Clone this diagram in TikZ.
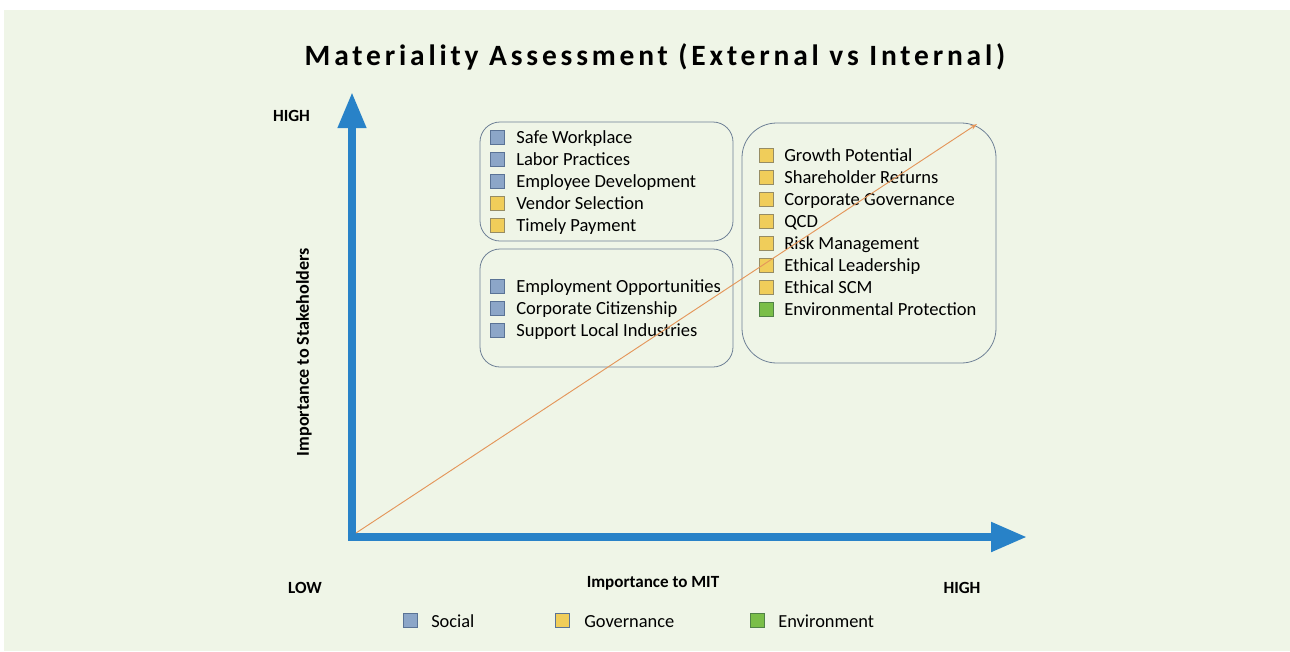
\documentclass[tikz,border=0pt]{standalone}
\usepackage{fontspec}
\setmainfont{Carlito}
\newfontfamily\titlefont[LetterSpace=13]{Carlito}
\usetikzlibrary{arrows.meta}
\definecolor{bgc}{RGB}{239,245,231}
\definecolor{axisblue}{RGB}{40,130,200}
\definecolor{boxline}{RGB}{110,128,150}
\definecolor{soc}{RGB}{140,166,200}
\definecolor{socb}{RGB}{90,115,150}
\definecolor{gov}{RGB}{240,205,90}
\definecolor{govb}{RGB}{150,140,100}
\definecolor{env}{RGB}{122,190,72}
\definecolor{envb}{RGB}{80,130,70}
\definecolor{trend}{RGB}{228,150,90}
\begin{document}
\begin{tikzpicture}[x=0.75pt,y=-0.75pt,
  group/.style={draw=boxline,line width=0.6pt,rounded corners=15pt,inner sep=0pt},
  chip/.style={draw=#1b,fill=#1,line width=0.5pt,minimum size=10.5pt,inner sep=0pt},
  item/.style={anchor=base west,inner sep=0pt,font=\fontsize{13.9pt}{15pt}\selectfont},
  lab/.style={inner sep=0pt,font=\fontsize{12.8pt}{14pt}\selectfont\bfseries},
  leg/.style={anchor=base west,inner sep=0pt,font=\fontsize{13.8pt}{15pt}\selectfont}]
\useasboundingbox (0,0) rectangle (1290,651);
\fill[white] (0,0) rectangle (1290,651);
\fill[bgc] (4,10) rectangle (1290,651);
% title
\node[inner sep=0pt] (title) at (655,57) {\titlefont\fontsize{22.1pt}{24pt}\selectfont\bfseries Materiality Assessment (External vs Internal)};
% groups
\node[group,minimum width=253*0.75pt,minimum height=119*0.75pt] (g1) at (606.5,181.5) {};
\node[group,minimum width=253*0.75pt,minimum height=118*0.75pt] (g2) at (606.5,308) {};
\node[group,rounded corners=26pt,minimum width=254*0.75pt,minimum height=240*0.75pt] (g3) at (869,243) {};
% items group 1
\foreach \t/\c/\y [count=\i] in {Safe Workplace/soc/137, Labor Practices/soc/159, Employee Development/soc/181, Vendor Selection/gov/203, Timely Payment/gov/225}{
  \node[chip=\c] (a\i) at (497,\y) {};
  \node[item] (at\i) at (516,\y+6) {\t};
}
\foreach \t/\c/\y [count=\i] in {Employment Opportunities/soc/286, Corporate Citizenship/soc/308, Support Local Industries/soc/330}{
  \node[chip=\c] (b\i) at (497,\y) {};
  \node[item] (bt\i) at (516,\y+6) {\t};
}
\foreach \t/\c/\y [count=\i] in {Growth Potential/gov/155, Shareholder Returns/gov/177, Corporate Governance/gov/199, QCD/gov/221, Risk Management/gov/243, Ethical Leadership/gov/265, Ethical SCM/gov/287, Environmental Protection/env/309}{
  \node[chip=\c] (c\i) at (766.5,\y) {};
  \node[item] (ct\i) at (784,\y+6) {\t};
}
% axes
\coordinate (ytop) at (352,92);
\coordinate (origin) at (352,537);
\coordinate (xend) at (1027,537);
\draw[axisblue,line width=6pt,miter limit=10,
  {Triangle[length=27pt,width=20pt]}-{Triangle[length=27pt,width=21pt]}]
  (ytop) -- (origin) -- (xend);
% trend line
\coordinate (t0) at (356,533);
\coordinate (t1) at (977,124);
\draw[trend,line width=0.7pt,-{Stealth[length=5pt,width=3.5pt]}] (t0) -- (t1);
% axis labels
\node[lab] (hy) at (291.5,116) {HIGH};
\node[lab] (low) at (305,588) {LOW};
\node[lab] (hx) at (962,588) {HIGH};
\node[lab] (xl) at (653,583) {Importance to MIT};
\node[lab,rotate=90,font=\fontsize{13.6pt}{14pt}\selectfont\bfseries] (yl) at (304,352) {Importance to Stakeholders};
% legend
\node[chip=soc] (ls) at (410.5,620) {};
\node[leg] (lst) at (431,627) {Social};
\node[chip=gov,draw=socb] (lg) at (562.5,620) {};
\node[leg] (lgt) at (584,627) {Governance};
\node[chip=env] (le) at (757.5,620) {};
\node[leg] (let) at (778,627) {Environment};
\end{tikzpicture}
\end{document}
